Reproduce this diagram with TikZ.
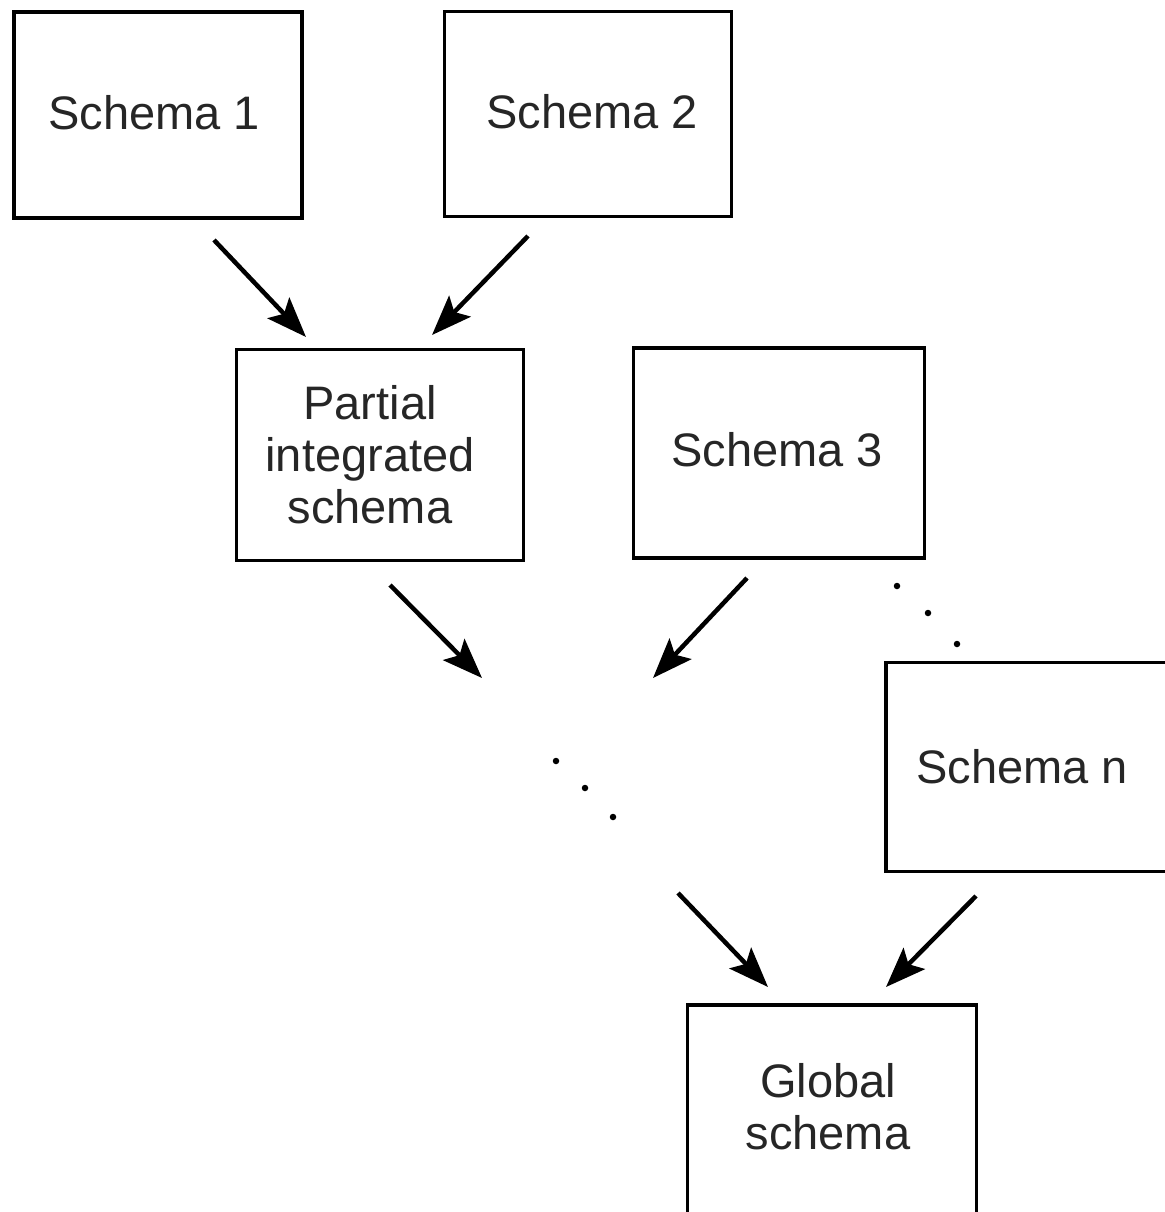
\documentclass[tikz,border=0pt]{standalone}
\usepackage{fontspec}
\setmainfont{Liberation Sans}
\usetikzlibrary{arrows.meta}
\begin{document}
\begin{tikzpicture}[x=1pt,y=-1pt,
  lbl/.style={font=\fontsize{47}{52}\selectfont, text=black!85, align=center},
  box/.style={draw=black, line width=3.2pt, rectangle, inner sep=0pt, lbl},
  flow/.style={line width=4.5pt, -{Stealth[length=40pt,width=30pt,inset=8pt,fill=black]}},
  dot/.style={circle, fill=black, inner sep=0pt, minimum size=6.5pt}]
\useasboundingbox (0,0) rectangle (1164,1212);
\fill[white] (0,0) rectangle (1164,1212);

% schema boxes
\node[box, minimum width=288pt, minimum height=206pt,
  label={[lbl, xshift=-4pt, yshift=2pt]center:Schema 1}] (s1) at (158,115) {};
\node[box, minimum width=287pt, minimum height=205pt,
  label={[lbl, xshift=4pt, yshift=2pt]center:Schema 2}] (s2) at (588,114) {};
\node[box, minimum width=287pt, minimum height=211pt,
  label={[lbl, xshift=-10pt]center:Partial\\integrated\\schema}] (p) at (380,455) {};
\node[box, minimum width=291pt, minimum height=210pt,
  label={[lbl, xshift=-2pt, yshift=3pt]center:Schema 3}] (s3) at (779,453) {};
\node[box, minimum width=300pt, minimum height=209pt,
  label={[lbl, xshift=-14pt]center:Schema n}] (sn) at (1036,767) {};
\node[box, minimum width=289pt, minimum height=230pt,
  label={[lbl, xshift=-4pt, yshift=13pt]center:Global\\schema}] (g) at (832,1120) {};

% arrow end points
\coordinate (a1s) at (214,240);  \coordinate (a1e) at (306,337);
\coordinate (a2s) at (528,236);  \coordinate (a2e) at (432,335);
\coordinate (a3s) at (390,585);  \coordinate (a3e) at (482,678);
\coordinate (a4s) at (747,578);  \coordinate (a4e) at (653,678);
\coordinate (a5s) at (678,893);  \coordinate (a5e) at (768,987);
\coordinate (a6s) at (976,896);  \coordinate (a6e) at (886,987);

\draw[flow] (a1s) -- (a1e);
\draw[flow] (a2s) -- (a2e);
\draw[flow] (a3s) -- (a3e);
\draw[flow] (a4s) -- (a4e);
\draw[flow] (a5s) -- (a5e);
\draw[flow] (a6s) -- (a6e);

% ellipsis dots
\node[dot] (d1) at (897,586) {};
\node[dot] (d2) at (928,613) {};
\node[dot] (d3) at (957,644) {};
\node[dot] (d4) at (556,761) {};
\node[dot] (d5) at (585,788) {};
\node[dot] (d6) at (613,817) {};
\end{tikzpicture}
\end{document}
